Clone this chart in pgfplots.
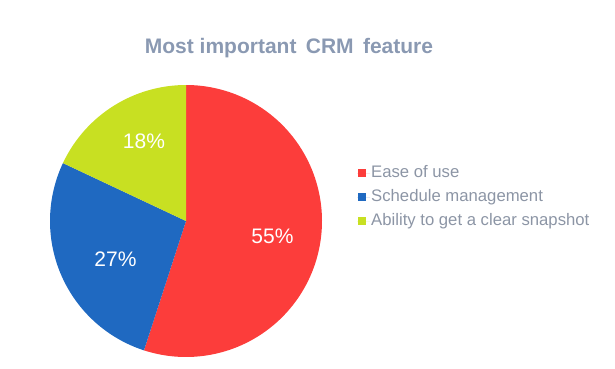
\documentclass[border=0pt]{standalone}
\usepackage{pgfplots}
\pgfplotsset{compat=1.18}
\usepackage{pgfplotstable}
\usepackage{fontspec}
\setmainfont{Liberation Sans}
\definecolor{cRed}{HTML}{FC3D3B}
\definecolor{cBlue}{HTML}{1F69C1}
\definecolor{cGreen}{HTML}{C8E022}
\definecolor{cTitle}{HTML}{8A99B2}
\definecolor{cLegend}{HTML}{8C95A5}

\pgfplotstableread{
label value
Ease 55
Schedule 27
Ability 18
}\piedata

\begin{document}
\begin{tikzpicture}
\pgfplotstablegetelem{0}{value}\of\piedata \let\va\pgfplotsretval
\pgfplotstablegetelem{1}{value}\of\piedata \let\vb\pgfplotsretval
\pgfplotstablegetelem{2}{value}\of\piedata \let\vc\pgfplotsretval
\pgfmathsetmacro\aA{90}
\pgfmathsetmacro\aB{90-3.6*\va}
\pgfmathsetmacro\aC{\aB-3.6*\vb}
\pgfmathsetmacro\aD{\aC-3.6*\vc}
\pgfplotsset{legend image code/.code={\path (0pt,0pt) -- (13pt,0pt); \fill[#1,draw=none] (1pt,-4pt) rectangle (9pt,4pt);}}
\begin{axis}[x=1pt, y=1pt, xmin=0, xmax=615, ymin=0, ymax=369,
  y dir=reverse, hide axis, clip=false, scale only axis,
  legend style={at={(axis cs:357,164)}, anchor=north west, draw=none, fill=none,
    font=\fontsize{16.7}{16.7}\selectfont, text=cLegend, inner sep=0pt,
    row sep=6pt,
    nodes={inner sep=1pt, text height=12pt, text depth=4pt}},
  legend cell align=left,
]
\path (axis cs:0,0) rectangle (axis cs:615,369);
\addplot[draw=none, fill=cRed, domain=\aB:\aA, samples=120] ({186+136*cos(x)}, {221-136*sin(x)}) -- (axis cs:186,221) -- cycle;
\addlegendentry{Ease of use}
\addplot[draw=none, fill=cBlue, domain=\aC:\aB, samples=80] ({186+136*cos(x)}, {221-136*sin(x)}) -- (axis cs:186,221) -- cycle;
\addlegendentry{Schedule management}
\addplot[draw=none, fill=cGreen, domain=\aD:\aC, samples=60] ({186+136*cos(x)}, {221-136*sin(x)}) -- (axis cs:186,221) -- cycle;
\addlegendentry{Ability to get a clear snapshot}
\node[anchor=base, text=white, font=\fontsize{21}{21}\selectfont, inner sep=0pt] at (axis cs:272.5,243) {55\%};
\node[anchor=base, text=white, font=\fontsize{21}{21}\selectfont, inner sep=0pt] at (axis cs:115.5,266) {27\%};
\node[anchor=base, text=white, font=\fontsize{21}{21}\selectfont, inner sep=0pt] at (axis cs:144,148) {18\%};
\node[anchor=base, text=cTitle, font=\fontsize{21}{21}\selectfont\bfseries, inner sep=0pt] at (axis cs:289,54) {Most important\, CRM\, feature};
\end{axis}
\end{tikzpicture}
\end{document}
